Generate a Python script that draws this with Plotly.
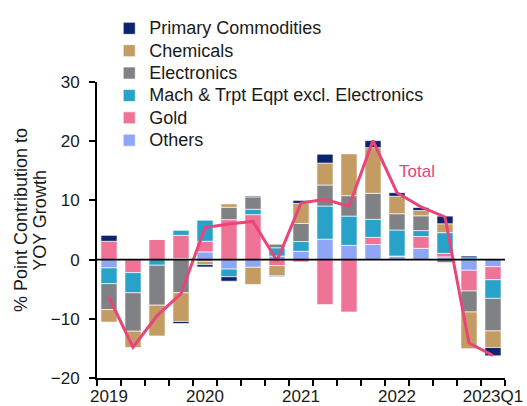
import plotly.graph_objects as go

# Quarters shown on the category axis
quarters = ["2019Q1", "2019Q2", "2019Q3", "2019Q4",
            "2020Q1", "2020Q2", "2020Q3", "2020Q4",
            "2021Q1", "2021Q2", "2021Q3", "2021Q4",
            "2022Q1", "2022Q2", "2022Q3", "2022Q4",
            "2023Q1"]
tick_labels = ["2019", "", "", "", "2020", "", "", "", "2021", "", "", "",
               "2022", "", "", "", "2023Q1"]

# Percentage-point contributions to YoY growth, by product group
others = [-1.4, 0.0, 0.0, 0.2, 1.3, -1.6, -1.3, 0.6, 1.4, 3.45, 2.4, 2.55,
          0.6, 1.9, 0.45, -1.8, -1.2]
gold = [3.1, -2.2, 3.4, 3.9, 1.8, 6.75, 7.6, -1.0, -0.4, -7.6, -8.85, 1.2,
        0.0, 2.0, 0.6, -3.5, -2.2]
mach_trpt = [-2.65, -3.4, -0.95, 0.85, 3.55, -1.3, 0.9, 1.4, 1.65, 5.6, 4.95, 3.05,
             4.4, 1.0, 3.5, 0.3, -3.15]
electronics = [-4.4, -6.5, -6.75, -5.6, -0.3, 2.1, 2.1, 0.6, 3.05, 3.55, 3.45, 4.4,
               2.75, 2.5, -0.5, -3.55, -5.5]
chemicals = [-2.1, -2.75, -5.2, -4.85, -0.55, 0.55, -2.9, -1.7, 3.4, 3.7, 7.1, 7.7,
             2.95, 0.9, 1.5, -6.2, -2.8]
primary = [1.0, 0.0, 0.0, -0.35, -0.4, -0.75, 0.15, -0.15, 0.5, 1.5, 0.0, 1.2,
           0.6, 0.5, 1.3, 0.3, -1.4]
total = [-6.4, -14.8, -9.5, -5.75, 5.4, 6.0, 6.45, -0.2, 9.55, 10.2, 9.0, 20.1,
         11.3, 8.9, 7.2, -14.1, -16.2]

series = [
    ("Others", others, "#8FA5F5"),
    ("Gold", gold, "#EE7397"),
    ("Mach & Trpt Eqpt excl. Electronics", mach_trpt, "#28A2C8"),
    ("Electronics", electronics, "#808184"),
    ("Chemicals", chemicals, "#C49B63"),
    ("Primary Commodities", primary, "#0C2470"),
]

FONT = "Liberation Sans, Arial, sans-serif"
LEGEND_TEXT_PX = 18

fig = go.Figure()
for name, vals, color in series:
    fig.add_trace(go.Bar(
        x=quarters, y=vals,
        name=f"<span style='font-size:{LEGEND_TEXT_PX}px'>{name}</span>",
        marker=dict(color=color, line=dict(color="rgba(255,255,255,0.8)", width=0.8)),
    ))

fig.add_trace(go.Scatter(
    x=quarters, y=total, name="Total", mode="lines",
    line=dict(color="#E8457A", width=3), showlegend=False,
))

# Zero reference line drawn over the bars
fig.add_shape(type="line", xref="paper", x0=0, x1=1, yref="y", y0=0, y1=0,
              line=dict(color="black", width=1.8), layer="above")

fig.add_annotation(text="Total", xref="paper", x=0.784, xanchor="center",
                   yref="y", y=14.9, yanchor="middle",
                   showarrow=False, font=dict(family=FONT, size=17, color="#E8457A"))

# Y-axis title, one annotation per line for tight line spacing
title_font = dict(family=FONT, size=18, color="#1a1a1a")
fig.add_annotation(text="% Point Contribution to", textangle=-90,
                   xref="paper", x=-0.186, xanchor="center",
                   yref="paper", y=0.534, yanchor="middle",
                   showarrow=False, font=title_font)
fig.add_annotation(text="YOY Growth", textangle=-90,
                   xref="paper", x=-0.140, xanchor="center",
                   yref="paper", y=0.534, yanchor="middle",
                   showarrow=False, font=title_font)

fig.update_layout(
    width=527, height=406,
    margin=dict(l=97, r=22, t=82, b=28),
    barmode="relative", bargap=0.33,
    plot_bgcolor="white", paper_bgcolor="white",
    font=dict(family=FONT, size=17, color="#1a1a1a"),
    legend=dict(traceorder="reversed", x=0.03, xanchor="left",
                y=1.236, yanchor="top",
                bgcolor="rgba(0,0,0,0)", font=dict(size=14.9), tracegroupgap=0,
                itemwidth=30),
    xaxis=dict(type="category", tickmode="array", tickvals=quarters, ticktext=tick_labels,
               tickson="boundaries", ticks="outside", ticklen=6, tickwidth=1.5,
               tickcolor="black", showline=True, linecolor="black", linewidth=1.8,
               showgrid=False, tickangle=0, automargin=False, ticklabelstandoff=2),
    yaxis=dict(range=[-20, 30], tickvals=[-20, -10, 0, 10, 20, 30], ticks="outside",
               ticklen=6, tickwidth=1.5, tickcolor="black", showline=True,
               linecolor="black", linewidth=1.8, showgrid=False, zeroline=False,
               ticklabelstandoff=6, automargin=False),
)

fig.write_html("out.html")
